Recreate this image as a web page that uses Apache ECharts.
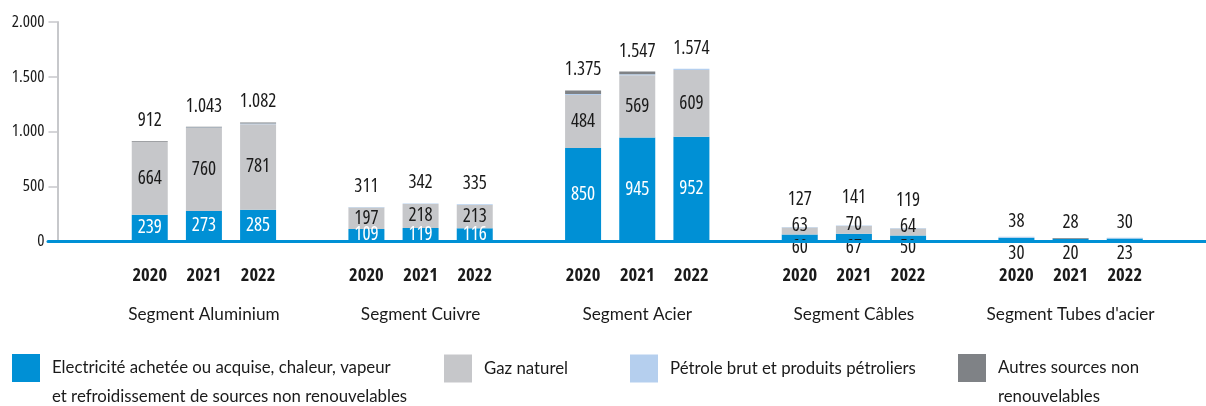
<!DOCTYPE html>
<html>
<head>
<meta charset="utf-8">
<script src="https://cdn.jsdelivr.net/npm/echarts@6/dist/echarts.min.js"></script>
<style>
  html, body { margin: 0; padding: 0; background: #fff; }
  #chart { width: 1206px; height: 406px; }
</style>
</head>
<body>
<div id="chart"></div>
<script>
// Energy consumption by segment and year, per energy source
const segments = ['Segment Aluminium', 'Segment Cuivre', 'Segment Acier', 'Segment Câbles', "Segment Tubes d'acier"];
const years = ['2020', '2021', '2022'];
const electricite = [239, 273, 285, 109, 119, 116, 850, 945, 952, 60, 67, 50, 30, 20, 23];
const gazNaturel  = [664, 760, 781, 197, 218, 213, 484, 569, 609, 63, 70, 64, 0, 0, 0];
const petrole     = [2, 3, 8, 5, 5, 6, 9, 8, 13, 4, 4, 5, 8, 0, 7];
const autres      = [7, 7, 8, 0, 0, 0, 32, 25, 0, 0, 0, 0, 0, 8, 0];
const yTicks = [0, 500, 1000, 1500, 2000];
const seriesNames = [
  'Electricité achetée ou acquise, chaleur, vapeur\net refroidissement de sources non renouvelables',
  'Gaz naturel',
  'Pétrole brut et produits pétroliers',
  'Autres sources non\nrenouvelables'
];
const colors = ['#0090d5', '#c6c7ca', '#b5cfee', '#7f8286'];

// Numbers use condensed Open Sans (stretch keyword carried in the canvas font shorthand); words use Lato
const NUM = { fontFamily: '"Open Sans", sans-serif', fontStyle: 'normal', fontWeight: 'condensed' };
const NUM_BOLD = { fontFamily: '"Open Sans", sans-serif', fontStyle: 'normal', fontWeight: 'bold condensed' };
const WORD = { fontFamily: 'Lato, sans-serif', fontWeight: 'normal' };
const TEXT = '#1a1a1a';

// Category slots: one empty slot before, one between each segment, one after
const slotYears = [''];
const slotSegments = [''];
const slotOfBar = [];
segments.forEach((seg) => {
  years.forEach((y, j) => {
    slotOfBar.push(slotYears.length);
    slotYears.push(y);
    slotSegments.push(j === 1 ? seg : '');
  });
  slotYears.push('');
  slotSegments.push('');
});

const totals = electricite.map((v, i) => v + gazNaturel[i] + petrole[i] + autres[i]);
const fmt = v => String(v).replace(/\B(?=(\d{3})+(?!\d))/g, '.');

// Spread per-bar values onto the slots
function toSlots(values, itemFn) {
  const out = slotYears.map(() => '-');
  values.forEach((v, i) => {
    const item = { value: v };
    if (itemFn) Object.assign(item, itemFn(v, i));
    out[slotOfBar[i]] = item;
  });
  return out;
}
const groupOf = i => Math.floor(i / 3);

// Short bars carry their value under the baseline
const elecData = toSlots(electricite, (v, i) => {
  const g = groupOf(i);
  if (g >= 3) {
    return { label: { position: 'bottom', color: TEXT, distance: g === 3 ? -3 : 3 } };
  }
  return {};
});
const gazData = toSlots(gazNaturel, (v, i) => {
  const g = groupOf(i);
  if (g === 3) return { label: { offset: [0, -5] } };
  return {};
});
const totalData = toSlots(totals.map(() => 0), (v, i) => {
  const g = groupOf(i);
  return { label: { distance: g === 3 ? 18 : (g === 4 ? 6 : 11) } };
});

const labelBase = Object.assign({ fontSize: 19 }, NUM);

const legendDefs = [
  { left: 12, top: 324.5 },
  { left: 444, top: 354 },
  { left: 630, top: 354 },
  { left: 958, top: 324.5 }
];

const option = {
  animation: false,
  grid: [
    { left: 68.5, right: -3.5, top: 22, bottom: 165, containLabel: false },
    { left: 48, right: 0, top: 22, bottom: 165, containLabel: false }
  ],
  legend: legendDefs.map((l, k) => ({
    data: [seriesNames[k]],
    left: l.left,
    top: l.top,
    orient: 'horizontal',
    padding: 0,
    icon: 'rect',
    itemWidth: 28,
    itemHeight: 28,
    selectedMode: false,
    // two-line entries start their first line level with the swatch
    formatter: name => (name.indexOf('\n') >= 0 ? '\n' + name : name),
    textStyle: Object.assign({
      fontSize: 16.8, color: TEXT, lineHeight: 29, padding: [0, 0, 0, 7]
    }, WORD)
  })),
  xAxis: [
    {
      type: 'category', gridIndex: 0, data: slotYears,
      axisLine: { show: false }, axisTick: { show: false },
      axisLabel: Object.assign({ interval: 0, margin: 25, color: TEXT, fontSize: 18.5 }, NUM_BOLD)
    },
    {
      type: 'category', gridIndex: 0, data: slotSegments, position: 'bottom', offset: 43,
      axisLine: { show: false }, axisTick: { show: false },
      axisLabel: Object.assign({ interval: 0, margin: 22, color: TEXT, fontSize: 17.2 }, WORD)
    },
    {
      type: 'category', gridIndex: 1, data: [''], z: 10,
      axisLine: { show: true, lineStyle: { color: '#0090d5', width: 3 } },
      axisTick: { show: false }, axisLabel: { show: false }
    }
  ],
  yAxis: [
    {
      type: 'value', gridIndex: 0, min: yTicks[0], max: yTicks[yTicks.length - 1], interval: yTicks[1] - yTicks[0],
      offset: 11,
      axisLine: { show: true, lineStyle: { color: '#c7c8cb', width: 2 } },
      axisTick: { show: true, length: 9, lineStyle: { color: '#c7c8cb', width: 1.5 } },
      splitLine: { show: false },
      axisLabel: Object.assign({ margin: 13, color: TEXT, fontSize: 17, formatter: v => fmt(v) }, NUM)
    },
    { type: 'value', gridIndex: 1, min: 0, max: 1, show: false }
  ],
  series: [
    {
      name: seriesNames[0], type: 'bar', stack: 'e', barWidth: 36, data: elecData,
      itemStyle: { color: colors[0] },
      label: Object.assign({ show: true, position: 'inside', color: '#fff', formatter: p => fmt(p.value) }, labelBase)
    },
    {
      name: seriesNames[1], type: 'bar', stack: 'e', barWidth: 36, data: gazData,
      itemStyle: { color: colors[1] },
      label: Object.assign({ show: true, position: 'inside', color: TEXT, formatter: p => p.value ? fmt(p.value) : '' }, labelBase)
    },
    {
      name: seriesNames[2], type: 'bar', stack: 'e', barWidth: 36, data: toSlots(petrole),
      itemStyle: { color: colors[2] }
    },
    {
      name: seriesNames[3], type: 'bar', stack: 'e', barWidth: 36, data: toSlots(autres),
      itemStyle: { color: colors[3] }
    },
    {
      name: 'Total', type: 'bar', stack: 'e', barWidth: 36, data: totalData,
      itemStyle: { color: 'transparent' },
      label: Object.assign({
        show: true, position: 'top', color: TEXT,
        formatter: p => fmt(totals[slotOfBar.indexOf(p.dataIndex)])
      }, labelBase)
    }
  ]
};

const chart = echarts.init(document.getElementById('chart'), null, { renderer: 'canvas' });
chart.setOption(option);
</script>
</body>
</html>
